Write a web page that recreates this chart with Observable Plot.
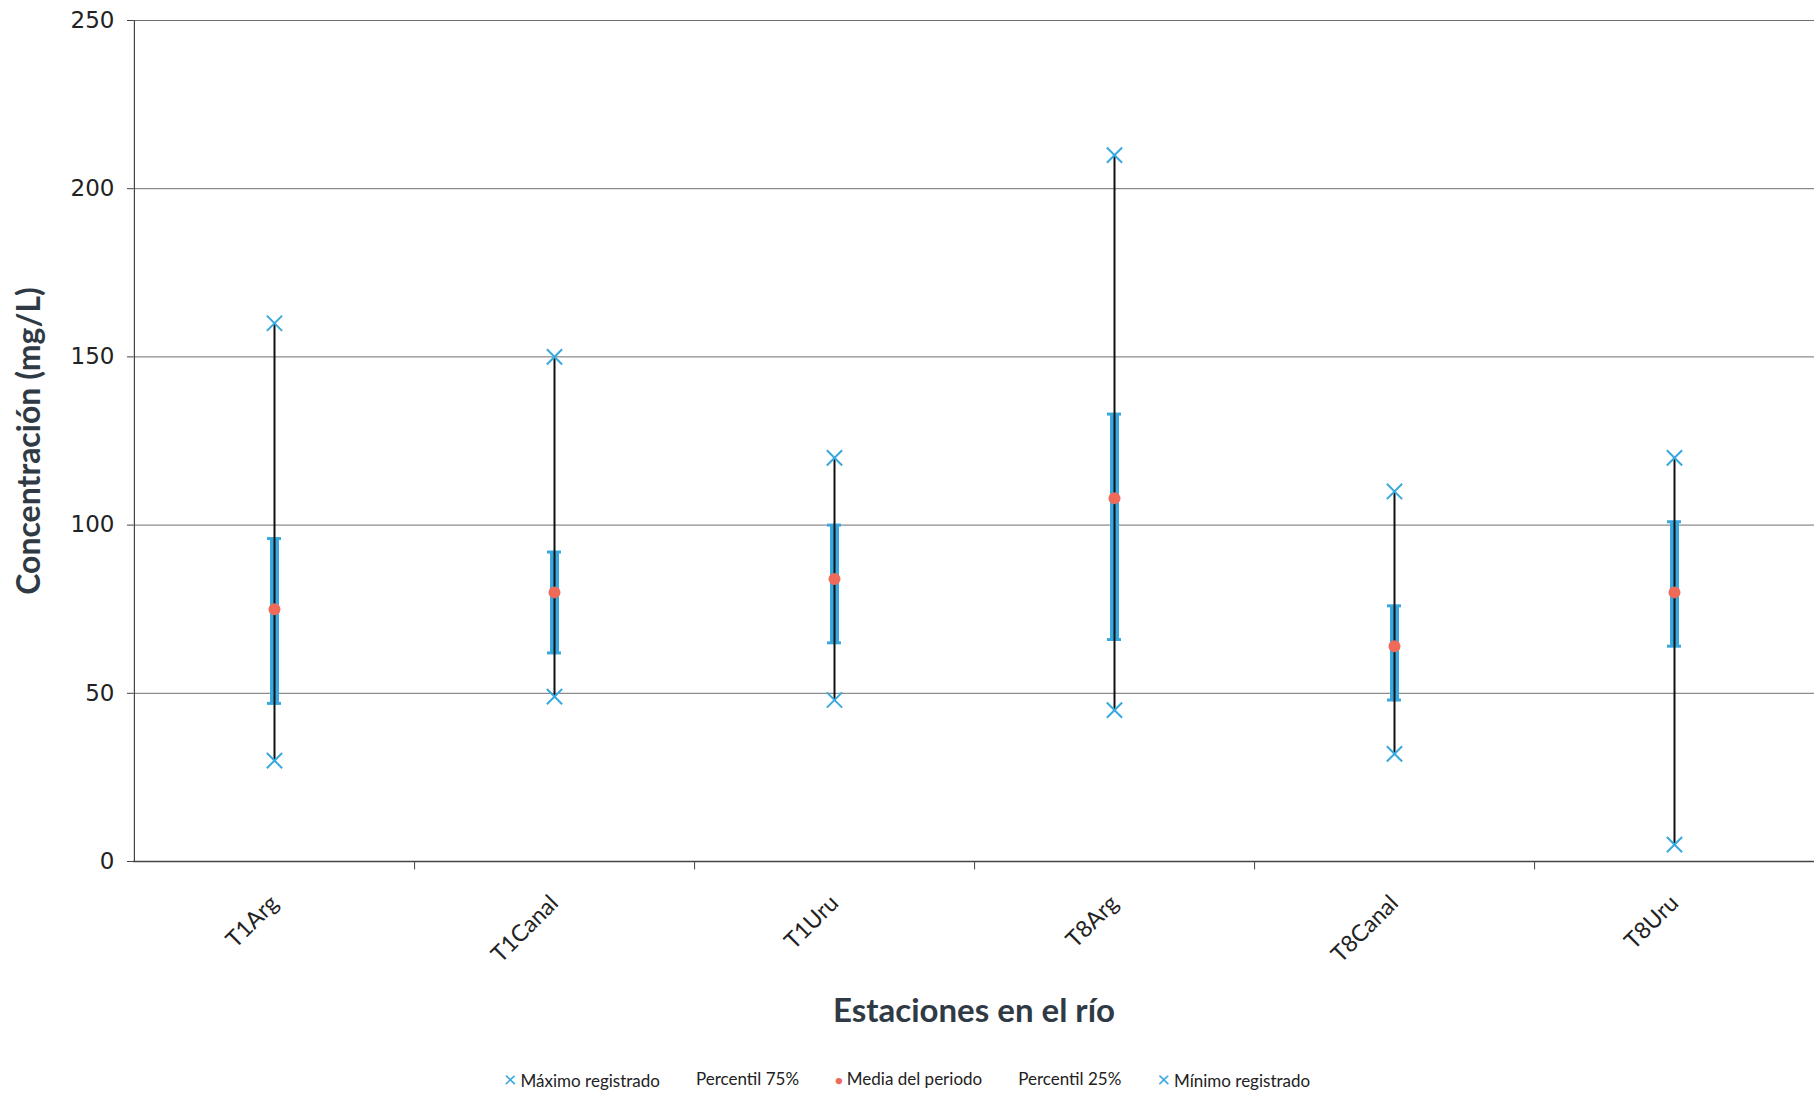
<!DOCTYPE html>
<html>
<head>
<meta charset="utf-8">
<script src="https://cdn.jsdelivr.net/npm/d3@7"></script>
<script src="https://cdn.jsdelivr.net/npm/@observablehq/plot@0.6"></script>
<style>
  html, body { margin: 0; padding: 0; background: #fff; }
  #chart svg { display: block; }
  #legend {
    display: flex; justify-content: center; align-items: center;
    font-family: Lato, "Open Sans", sans-serif; font-size: 17px; color: #222;
    height: 37px; gap: 36px;
  }
  #legend span.sym { display: inline-block; margin-right: 4px; }
</style>
</head>
<body>
<div id="chart"></div>
<div id="legend"></div>
<script>
const stations = ["T1Arg", "T1Canal", "T1Uru", "T8Arg", "T8Canal", "T8Uru"];
const maximo   = [160, 150, 120, 210, 110, 120];
const p75      = [96, 92, 100, 133, 76, 101];
const media    = [75, 80, 84, 108, 64, 80];
const p25      = [47, 62, 65, 66, 48, 64];
const minimo   = [30, 49, 48, 45, 32, 5];
const yTicks   = [0, 50, 100, 150, 200, 250];

const blue = "#38a8de";
const red = "#f06a5a";

const rows = stations.map((s, i) => ({station: s, max: maximo[i], p75: p75[i], mean: media[i], p25: p25[i], min: minimo[i]}));

const chart = Plot.plot({
  width: 1814,
  height: 1060,
  marginLeft: 133,
  marginRight: 0,
  marginTop: 20,
  marginBottom: 199,
  x: {domain: stations, padding: 0},
  y: {domain: [0, 250]},
  marks: [
    Plot.ruleY(yTicks.slice(1), {stroke: "#707070", strokeWidth: 1}),
    Plot.ruleY([0], {stroke: "#444", strokeWidth: 1.5}),
    Plot.ruleX([0], {x: () => stations[0], dx: -140.1, y1: 0, y2: 250, stroke: "#444", strokeWidth: 1.2}),
    Plot.ruleX(stations.slice(0, 5), {x: d => d, dx: 140.1, y1: 0, y2: -2.5, stroke: "#444"}),
    Plot.axisY({ticks: yTicks, tickSize: 6, tickPadding: 13, label: null,
      fontSize: 23, fontFamily: "DejaVu Sans", stroke: "#444", color: "#222"}),
    Plot.axisX({tickSize: 0, tickPadding: 38, tickRotate: -45, label: null,
      fontSize: 23, fontFamily: "Lato", color: "#222"}),
    Plot.ruleX(rows, {x: "station", y1: "p25", y2: "p75", stroke: blue, strokeWidth: 9}),
    Plot.tickY(rows, {x: "station", y: "p75", stroke: blue, strokeWidth: 3, insetLeft: 133, insetRight: 133}),
    Plot.tickY(rows, {x: "station", y: "p25", stroke: blue, strokeWidth: 3, insetLeft: 133, insetRight: 133}),
    Plot.ruleX(rows, {x: "station", y1: "min", y2: "max", stroke: "#111", strokeWidth: 2}),
    Plot.dot(rows, {x: "station", y: "max", symbol: "times", r: 7, stroke: blue, strokeWidth: 2}),
    Plot.dot(rows, {x: "station", y: "min", symbol: "times", r: 7, stroke: blue, strokeWidth: 2}),
    Plot.dot(rows, {x: "station", y: "mean", r: 6, fill: red, stroke: "none"}),
    Plot.text(["Concentración (mg/L)"], {text: d => d, frameAnchor: "left", textAnchor: "middle", dx: -104, rotate: -90,
      fontSize: 32, fontWeight: "bold", fontFamily: "Lato", fill: "#2f3a45"}),
    Plot.text(["Estaciones en el río"], {text: d => d, frameAnchor: "bottom", textAnchor: "middle", dy: 160,
      fontSize: 33, fontWeight: "bold", fontFamily: "Lato", fill: "#2f3a45"})
  ]
});
document.getElementById("chart").appendChild(chart);

const legendItems = [
  {sym: "×", color: blue, label: "Máximo registrado"},
  {sym: "", color: blue, label: "Percentil 75%"},
  {sym: "●", color: red, label: "Media del periodo"},
  {sym: "", color: blue, label: "Percentil 25%"},
  {sym: "×", color: blue, label: "Mínimo registrado"}
];
const leg = document.getElementById("legend");
for (const it of legendItems) {
  const el = document.createElement("div");
  if (it.sym) {
    const s = document.createElement("span");
    s.className = "sym";
    s.style.color = it.color;
    s.style.fontSize = it.sym === "●" ? "13px" : "22px";
    s.textContent = it.sym;
    el.appendChild(s);
  }
  el.appendChild(document.createTextNode(it.label));
  leg.appendChild(el);
}
</script>
</body>
</html>
